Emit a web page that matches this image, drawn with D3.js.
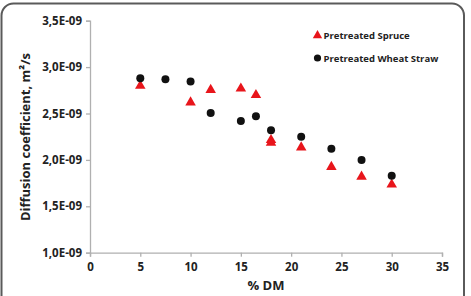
<!DOCTYPE html>
<html><head><meta charset="utf-8">
<script src="https://cdn.jsdelivr.net/npm/d3@7"></script>
<style>
body{margin:0;background:#fff;}
text{font-family:"Open Sans","Liberation Sans",sans-serif;font-weight:bold;fill:#222;}
</style></head><body>
<svg id="c" width="471" height="296"></svg>
<script>
const spruceX = [5, 10, 12, 15, 16.5, 18, 18, 21, 24, 27, 30];
const spruceY = [2.81e-9, 2.63e-9, 2.765e-9, 2.78e-9, 2.71e-9, 2.225e-9, 2.195e-9, 2.145e-9, 1.935e-9, 1.83e-9, 1.745e-9];
const wheatX = [5, 7.5, 10, 12, 15, 16.5, 18, 21, 24, 27, 30];
const wheatY = [2.88e-9, 2.87e-9, 2.845e-9, 2.505e-9, 2.42e-9, 2.47e-9, 2.32e-9, 2.25e-9, 2.12e-9, 2.0e-9, 1.83e-9];
const xTicks = [0, 5, 10, 15, 20, 25, 30, 35];
const yTicks = [1.0e-9, 1.5e-9, 2.0e-9, 2.5e-9, 3.0e-9, 3.5e-9];
const yTickLabels = ["1,0E-09", "1,5E-09", "2,0E-09", "2,5E-09", "3,0E-09", "3,5E-09"];
const seriesNames = ["Pretreated Spruce", "Pretreated Wheat Straw"];

const svg = d3.select("#c");
svg.append("rect").attr("x",1.5).attr("y",3.5).attr("width",462.5).attr("height",310)
  .attr("rx",12).attr("fill","#fff").attr("stroke","#5a5a5a").attr("stroke-width",2);

const x = d3.scaleLinear().domain([0,35]).range([90,442]);
const y = d3.scaleLinear().domain([1.0e-9,3.5e-9]).range([252.7,20.7]);

const gx = svg.append("g").attr("transform","translate(0,252.7)")
  .call(d3.axisBottom(x).tickValues(xTicks).tickSizeOuter(0).tickSize(4).tickPadding(6));
const gy = svg.append("g").attr("transform","translate(90,0)")
  .call(d3.axisLeft(y).tickValues(yTicks).tickFormat((d,i)=>yTickLabels[i]).tickSizeOuter(0).tickSize(4).tickPadding(4));
[gx,gy].forEach(g=>{
  g.select(".domain").attr("stroke","#b0b0b0").attr("stroke-width",1.3);
  g.selectAll(".tick line").attr("stroke","#b0b0b0").attr("stroke-width",1.3);
  g.selectAll("text").attr("font-size",11.5).attr("fill","#222")
   .style("font-family","'Open Sans','Liberation Sans',sans-serif").style("font-weight","bold");
});

svg.append("text").attr("x",266).attr("y",290).attr("text-anchor","middle").attr("font-size",13).text("% DM");
svg.append("text").attr("transform","translate(30,137) rotate(-90)").attr("text-anchor","middle")
  .attr("font-size",13).text("Diffusion coefficient, m²/s");

const tri = d3.symbol().type(d3.symbolTriangle).size(48);
svg.append("g").selectAll("path").data(spruceX).join("path")
  .attr("d",tri).attr("fill","#e8151b")
  .attr("transform",(d,i)=>`translate(${x(d)},${y(spruceY[i])+1})`);
svg.append("g").selectAll("circle").data(wheatX).join("circle")
  .attr("cx",d=>x(d)).attr("cy",(d,i)=>y(wheatY[i])).attr("r",4).attr("fill","#111");

// legend
const lg = svg.append("g");
lg.append("path").attr("d",d3.symbol().type(d3.symbolTriangle).size(38)).attr("fill","#e8151b")
  .attr("transform","translate(317.5,35.5)");
lg.append("text").attr("x",323.5).attr("y",38.5).attr("font-size",9.5).text(seriesNames[0]);
lg.append("circle").attr("cx",317.5).attr("cy",58).attr("r",3.6).attr("fill","#111");
lg.append("text").attr("x",323.5).attr("y",61.5).attr("font-size",9.5).text(seriesNames[1]);
</script></body></html>
